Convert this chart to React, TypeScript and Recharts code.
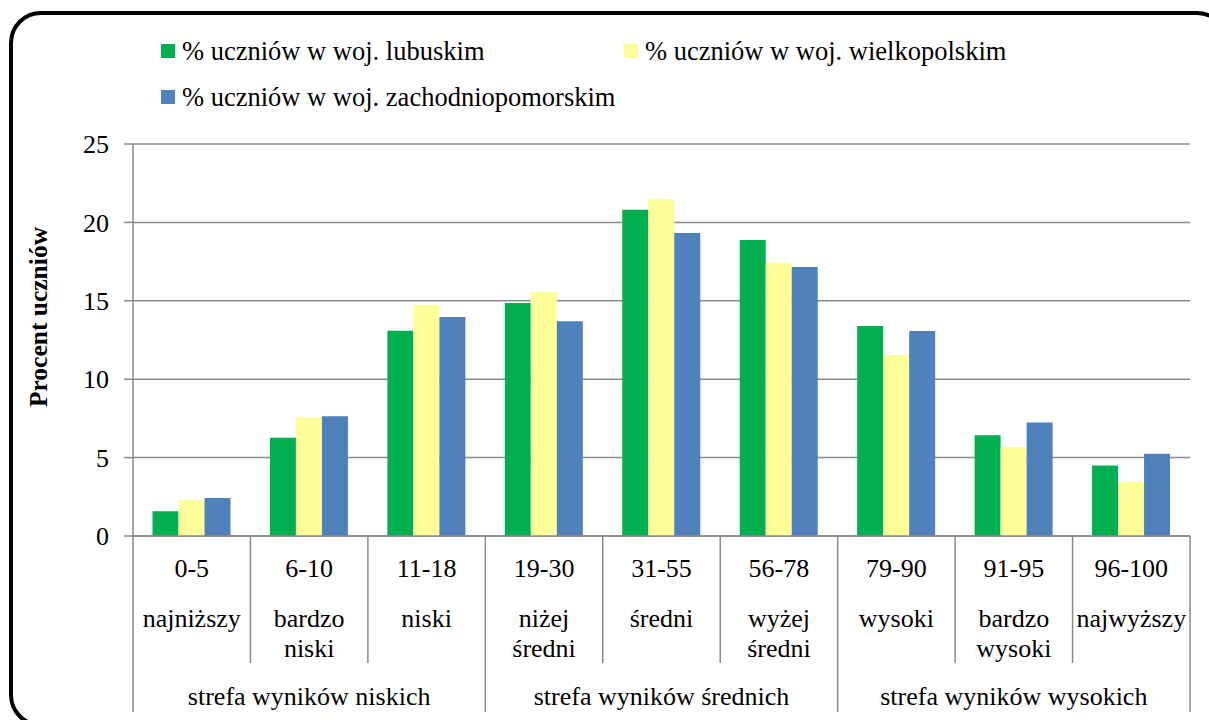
import React from 'react';
import { BarChart, Bar, XAxis, YAxis, CartesianGrid } from 'recharts';

// score ranges (stanine-like bands) and their descriptions
const ranges = ['0-5', '6-10', '11-18', '19-30', '31-55', '56-78', '79-90', '91-95', '96-100'];
const levels = [
  ['najniższy'],
  ['bardzo', 'niski'],
  ['niski'],
  ['niżej', 'średni'],
  ['średni'],
  ['wyżej', 'średni'],
  ['wysoki'],
  ['bardzo', 'wysoki'],
  ['najwyższy'],
];
const zones = ['strefa wyników niskich', 'strefa wyników średnich', 'strefa wyników wysokich'];

const lubuskie = [1.58, 6.26, 13.09, 14.86, 20.8, 18.88, 13.39, 6.43, 4.49];
const wielkopolskie = [2.3, 7.58, 14.73, 15.56, 21.48, 17.43, 11.54, 5.68, 3.45];
const zachodniopomorskie = [2.43, 7.64, 13.97, 13.69, 19.33, 17.16, 13.07, 7.24, 5.24];

const yTicks = [0, 5, 10, 15, 20, 25];

const series = [
  { key: 'lub', name: '% uczniów w woj. lubuskim', color: '#00B050' },
  { key: 'wlkp', name: '% uczniów w woj. wielkopolskim', color: '#FFFF99' },
  { key: 'zach', name: '% uczniów w woj. zachodniopomorskim', color: '#4F81BD' },
];

const data = ranges.map((r, i) => ({
  range: r,
  lub: lubuskie[i],
  wlkp: wielkopolskie[i],
  zach: zachodniopomorskie[i],
}));

const FONT = '"Liberation Serif", "Times New Roman", serif';
const GRID = '#8a8a8a';
const BAND = (1190 - 133) / ranges.length;

// legend placement (layout only)
const legendPos = [
  { left: 161, top: 44 },
  { left: 624, top: 44 },
  { left: 161, top: 90 },
];

function CategoryTick(props: any) {
  const { x, y, payload } = props;
  const i: number = props.index ?? payload.index;
  const half = payload.offset || BAND / 2;
  const txt = { fontFamily: FONT, fontSize: 26, fill: '#000', textAnchor: 'middle' as const };
  return (
    <g>
      <line
        x1={x - half}
        y1={y}
        x2={x - half}
        y2={y + (i % 3 === 0 ? 176 : 127)}
        stroke={GRID}
        strokeWidth={1.5}
      />
      {i === ranges.length - 1 && (
        <line x1={x + half} y1={y} x2={x + half} y2={y + 176} stroke={GRID} strokeWidth={1.5} />
      )}
      <text x={x} y={y + 41} {...txt}>{payload.value}</text>
      {levels[i].map((t, k) => (
        <text key={k} x={x} y={y + 91 + k * 30} {...txt}>{t}</text>
      ))}
      {i % 3 === 1 && (
        <text x={x} y={y + 169} {...txt}>{zones[(i - 1) / 3]}</text>
      )}
    </g>
  );
}

function YLabel(props: any) {
  const vb = props.viewBox || { x: 0, y: 144, width: 133, height: 392 };
  const cx = 47;
  const cy = vb.y + 173;
  return (
    <text
      x={cx}
      y={cy}
      transform={`rotate(-90 ${cx} ${cy})`}
      textAnchor="middle"
      fontFamily={FONT}
      fontSize={25.5}
      fontWeight="bold"
      fill="#000"
    >
      Procent uczniów
    </text>
  );
}

export default function App() {
  return (
    <div
      style={{
        position: 'fixed',
        left: 0,
        top: 0,
        width: 1209,
        height: 720,
        background: '#fff',
        overflow: 'hidden',
      }}
    >
      <div
        style={{
          position: 'absolute',
          left: 9,
          top: 11,
          width: 1220,
          height: 716,
          border: '4px solid #000',
          borderRadius: 32,
          boxSizing: 'border-box',
        }}
      />
      {series.map((s, i) => (
        <div
          key={s.key}
          style={{
            position: 'absolute',
            left: legendPos[i].left,
            top: legendPos[i].top - 6,
            height: 26,
            display: 'flex',
            alignItems: 'center',
            fontFamily: FONT,
            fontSize: 26.5,
            color: '#000',
            whiteSpace: 'nowrap',
          }}
        >
          <span style={{ width: 14, height: 14, background: s.color, marginRight: 7, display: 'inline-block' }} />
          <span>{s.name}</span>
        </div>
      ))}
      <div style={{ position: 'absolute', left: 0, top: 0 }}>
        <BarChart
          width={1209}
          height={720}
          data={data}
          margin={{ top: 144, right: 19, left: 0, bottom: 8 }}
          barCategoryGap="16.6%"
          barGap={0}
        >
          <CartesianGrid vertical={false} stroke={GRID} strokeWidth={1.5} />
          <XAxis
            dataKey="range"
            height={176}
            interval={0}
            tickLine={false}
            tickSize={0}
            tickMargin={0}
            axisLine={{ stroke: GRID, strokeWidth: 1.5 }}
            tick={<CategoryTick />}
          />
          <YAxis
            width={133}
            domain={[0, 25]}
            ticks={yTicks}
            interval={0}
            tickSize={9}
            tickMargin={15}
            tickLine={{ stroke: GRID, strokeWidth: 1.5 }}
            axisLine={{ stroke: GRID, strokeWidth: 1.5 }}
            tick={{ fill: '#000', fontSize: 26, fontFamily: FONT }}
            label={<YLabel />}
          />
          {series.map((s) => (
            <Bar
              key={s.key}
              dataKey={s.key}
              name={s.name}
              fill={s.color}
              isAnimationActive={false}
            />
          ))}
        </BarChart>
      </div>
    </div>
  );
}
